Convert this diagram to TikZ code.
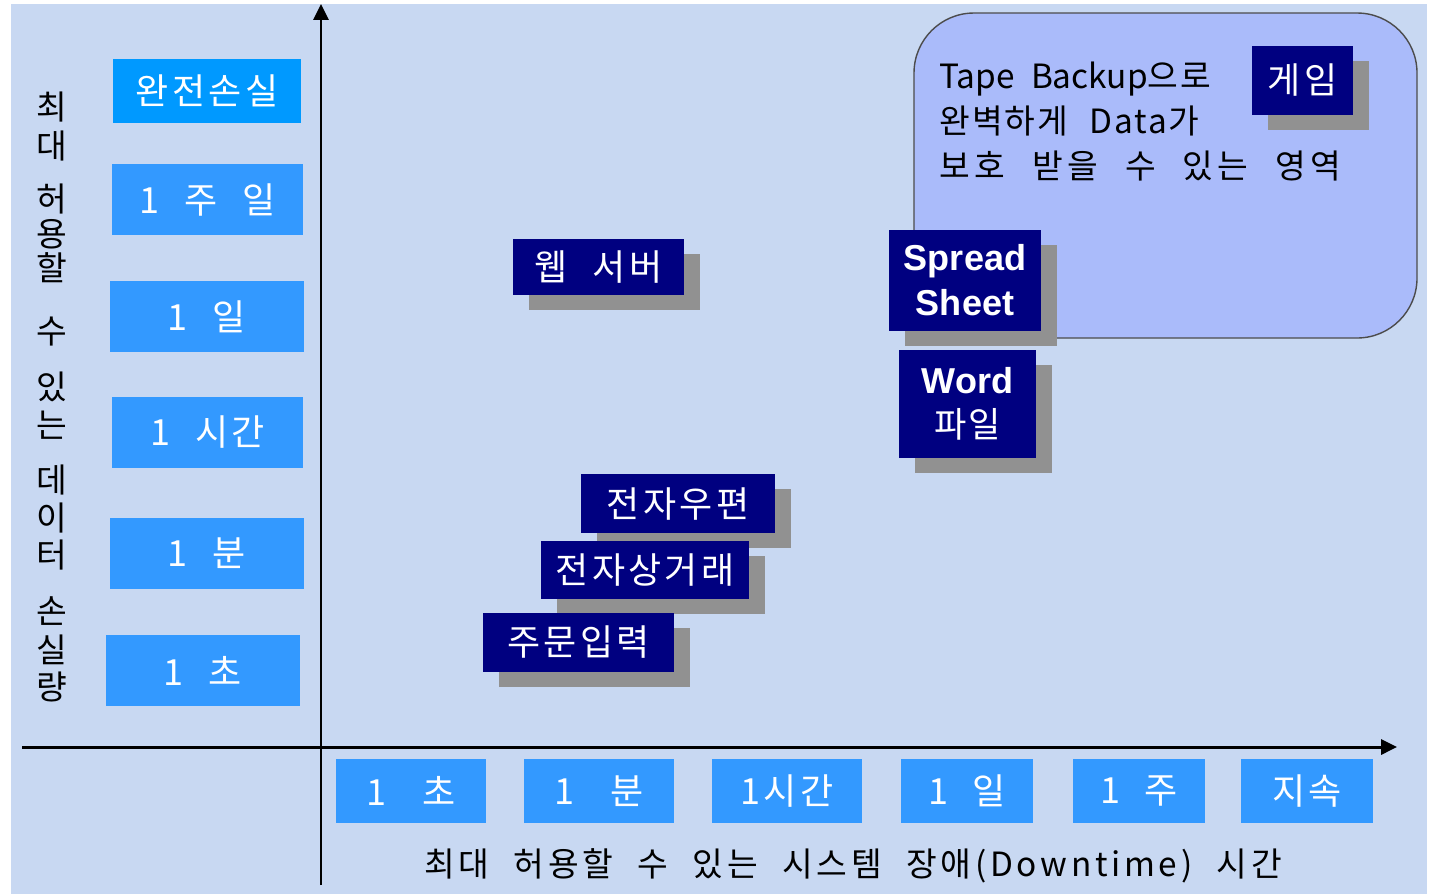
\documentclass[tikz,border=0pt]{standalone}
\usepackage{fontspec}
\setmainfont{Liberation Sans}
\newfontfamily\kor[WordSpace=2.2,LetterSpace=6]{Noto Sans CJK KR}
\usepackage{xcolor}
\usepackage{tikz}
\usetikzlibrary{arrows.meta,shadows}
\definecolor{bgblue}{RGB}{200,216,242}
\definecolor{tickblue}{RGB}{51,153,255}
\definecolor{lossblue}{RGB}{0,153,255}
\definecolor{appnavy}{RGB}{0,0,128}
\definecolor{shadowgray}{RGB}{145,145,145}
\definecolor{tapeblue}{RGB}{170,187,250}

\begin{document}
\begin{tikzpicture}[x=0.02cm,y=-0.02cm,
  tickbox/.style 2 args={fill=tickblue, text=white, inner sep=0pt,
    minimum width=#1*0.02cm, minimum height=#2*0.02cm,
    font=\kor\addfontfeature{LetterSpace=9}\fontsize{20.5}{24}\selectfont},
  appbox/.style 2 args={fill=appnavy, text=white, inner sep=0pt, align=center,
    minimum width=#1*0.02cm, minimum height=#2*0.02cm,
    font=\kor\addfontfeature{LetterSpace=9}\fontsize{20.5}{24}\selectfont,
    drop shadow={shadow xshift=0.32cm, shadow yshift=-0.3cm, fill=shadowgray, opacity=1}},
  axis/.style={line width=1.7pt, -{Triangle[length=9pt,width=8.5pt]}}]
\useasboundingbox (0,0) rectangle (1429,894);
\fill[bgblue] (11,4) rectangle (1427,894);
\coordinate (Y0) at (321,885);
\coordinate (Y1) at (321,4);
\coordinate (X0) at (22,747);
\coordinate (X1) at (1397,747);
% area that tape backup covers
\draw[fill=tapeblue, draw=black!70, line width=0.8pt, rounded corners=1.2cm] (914,13) rectangle (1417,338);
\node[anchor=north west, align=left, inner sep=0pt, font=\kor\fontsize{19}{25.5}\selectfont] (tape) at (939,62)
  {{\addfontfeature{LetterSpace=0}Tape Backup}으로\\완벽하게 Data가\\{\addfontfeature{LetterSpace=14}보호 받을 수 있는 영역}};
% loss axis
\node[tickbox={188}{64}, fill=lossblue] (L0) at (207,91) {완전손실};
\node[tickbox={191}{71}] (L1) at (207.5,199.5) {1 주 일};
\node[tickbox={194}{71}] (L2) at (207,316.5) {1 일};
\node[tickbox={191}{71}] (L3) at (207.5,432.5) {1 시간};
\node[tickbox={194}{71}] (L4) at (207,553.5) {1 분};
\node[tickbox={194}{71}] (L5) at (203,670.5) {1 초};
\foreach \c/\y [count=\i] in {최/107,대/146,허/199,용/234,할/268,수/332,있/387,는/425,데/480,이/518,터/555,손/611,실/650,량/687}
  \node[inner sep=0pt, font=\kor\fontsize{19}{22}\selectfont] (V\i) at (52,\y) {\c};
% downtime axis
\node[tickbox={150}{64}] (T0) at (411,791) {1\hspace{1em}초};
\node[tickbox={150}{64}] (T1) at (599,791) {1\hspace{1em}분};
\node[tickbox={150}{64}] (T2) at (787,791) {1시간};
\node[tickbox={132}{64}] (T3) at (967,791) {1 일};
\node[tickbox={132}{64}] (T4) at (1139,791) {1 주};
\node[tickbox={132}{64}] (T5) at (1307,791) {지속};
\node[inner sep=0pt, font=\kor\addfontfeature{LetterSpace=11}\fontsize{19}{22}\selectfont] (xlabel) at (853,866)
  {최대 허용할 수 있는 시스템 장애(Downtime) 시간};
% applications
\node[appbox={171}{56}] (web) at (598.5,267) {웹 서버};
\node[appbox={194}{59}] (mail) at (678,503.5) {전자우편};
\node[appbox={208}{58}] (ecom) at (645,570) {전자상거래};
\node[appbox={191}{59}] (order) at (578.5,642.5) {주문입력};
\node[appbox={152}{101}, font=\bfseries\fontsize{20.5}{25.5}\selectfont] (sheet) at (965,280.5) {Spread\\Sheet};
\node[appbox={137}{108}, font=\fontsize{20.5}{25}\selectfont] (word) at (967.5,404) {\bfseries Word\\{\kor\fontsize{20}{25}\selectfont 파일}};
\node[appbox={101}{69}] (game) at (1302.5,80.5) {게임};
\draw[axis] (Y0) -- (Y1);
\draw[axis] (X0) -- (X1);
\end{tikzpicture}
\end{document}
